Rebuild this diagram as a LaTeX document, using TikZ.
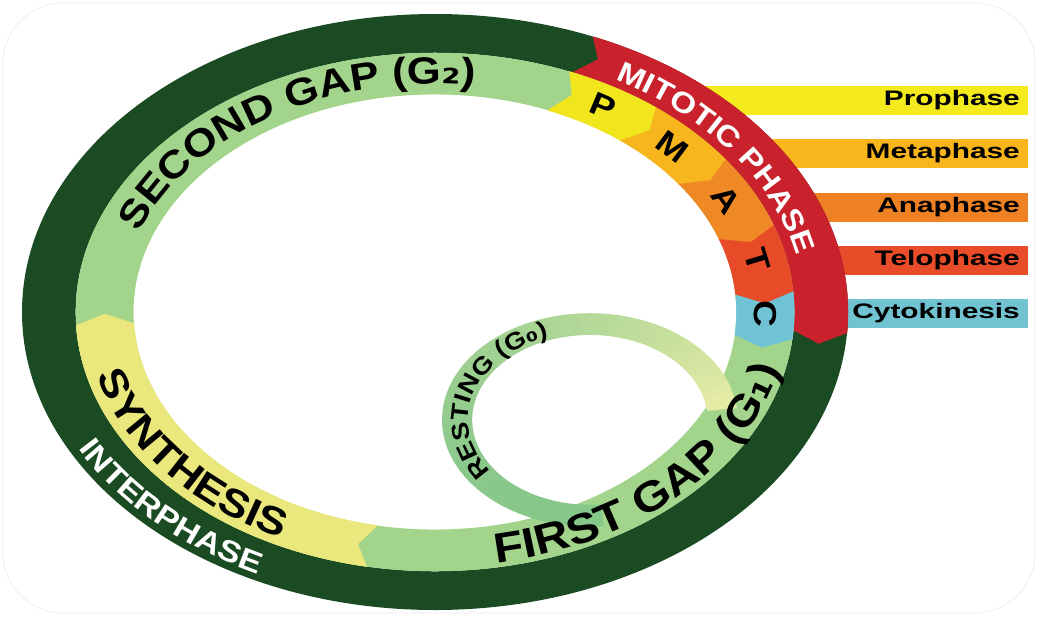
\documentclass[tikz,border=0pt]{standalone}
\usepackage{fontspec}
\setmainfont{Liberation Sans}
\newfontfamily\ringfont{Liberation Sans}[FakeStretch=1.15]
\newfontfamily\subfont{DejaVu Sans}[FakeStretch=1.15]
\newfontfamily\barfont{Liberation Sans}[FakeStretch=1.42]
\usetikzlibrary{decorations.text}

\definecolor{interdark}{HTML}{1B4B23}
\definecolor{gapgreen}{HTML}{A3D48B}
\definecolor{synyellow}{HTML}{EAE77C}
\definecolor{mitred}{HTML}{C9222C}
\definecolor{proyellow}{HTML}{F1E51E}
\definecolor{metaorange}{HTML}{F7B61D}
\definecolor{anaorange}{HTML}{EF8926}
\definecolor{telored}{HTML}{E84B28}
\definecolor{cytoblue}{HTML}{70C3D4}
\definecolor{probar}{HTML}{F4EA1D}
\definecolor{metabar}{HTML}{F8B51C}
\definecolor{anabar}{HTML}{EF8125}
\definecolor{telobar}{HTML}{E84C29}
\definecolor{cytobar}{HTML}{72C3D2}
\definecolor{restgreen}{HTML}{86C78A}
\definecolor{restpale}{HTML}{E6ECA6}

\newcommand{\chev}{2.5}
% band piece from angle #4 clockwise to #5, radii #2..#3
\newcommand{\bandpiece}[5]{%
  \filldraw[#1, line width=0.4pt] (#4:#3) arc[start angle=#4, end angle=#5, radius=#3]
    -- ({#5-\chev}:{(#2+#3)/2}) -- (#5:#2)
    arc[start angle=#5, end angle=#4, radius=#2]
    -- ({#4-\chev}:{(#2+#3)/2}) -- cycle;}

\tikzset{
  phasebar/.style={rectangle, anchor=east, minimum height=29pt, inner xsep=8pt,
    inner ysep=0pt, align=right, font=\barfont\bfseries\fontsize{21}{22}\selectfont},
  phaseletter/.style={inner sep=0pt, font=\ringfont\bfseries\fontsize{32}{32}\selectfont},
  frame/.style={draw=black!5, line width=1.2pt, rounded corners=60pt}
}

\begin{document}
\begin{tikzpicture}[x=1pt, y=1pt]
  \useasboundingbox (0,0) rectangle (1038,-616);
  \draw[frame] (3,-3) rectangle (1035,-613);

  \node[phasebar, fill=probar, text width=385pt] (prophase) at (1028,-100) {Prophase};
  \node[phasebar, fill=metabar, text width=304pt] (metaphase) at (1028,-153) {Metaphase};
  \node[phasebar, fill=anabar, text width=257pt] (anaphase) at (1028,-207) {Anaphase};
  \node[phasebar, fill=telobar, text width=233pt] (telophase) at (1028,-260.5) {Telophase};
  \node[phasebar, fill=cytobar, text width=226pt] (cytokinesis) at (1028,-313) {Cytokinesis};

  \begin{scope}[shift={(435,-312)}, x=413pt, y=298pt]
    \fill[interdark, even odd rule] (0,0) circle[radius=1] (0,0) circle[radius=0.87];
    \bandpiece{mitred}{0.87}{1}{67.5}{-4}
    \fill[gapgreen, even odd rule] (0,0) circle[radius=0.87] (0,0) circle[radius=0.73];
    \bandpiece{synyellow}{0.73}{0.87}{259}{183}
    \bandpiece{proyellow}{0.73}{0.87}{68}{52}
    \bandpiece{metaorange}{0.73}{0.87}{52}{36}
    \bandpiece{anaorange}{0.73}{0.87}{36}{19.5}
    \bandpiece{telored}{0.73}{0.87}{19.5}{4.5}
    \bandpiece{cytoblue}{0.73}{0.87}{4.5}{-6}

    \begin{scope}[shift={(0.375,-0.362)}]
      \foreach \i in {0,...,63} {
        \pgfmathsetmacro\a{-85-4.2*\i}
        \pgfmathsetmacro\b{\a-4.2}
        \pgfmathsetmacro\p{100*(\i/63)^2}
        \fill[restpale!\p!restgreen] ({\a+0.4}:0.358) arc[start angle={\a+0.4}, end angle=\b, radius=0.358]
          -- (\b:0.285) arc[start angle=\b, end angle={\a+0.4}, radius=0.285] -- cycle;
      }
      \path[decorate, decoration={text along path, text align=center,
        text={|\ringfont\bfseries\fontsize{24}{24}\selectfont|RESTING (G|\subfont\bfseries\fontsize{24}{24}\selectfont|₀|\ringfont\bfseries\fontsize{24}{24}\selectfont|)}}]
        (218:0.295) arc[start angle=218, end angle=108, radius=0.295];
    \end{scope}

    \path[decorate, decoration={text along path, text align=center,
      text={|\ringfont\bfseries\fontsize{38}{38}\selectfont|SECOND GAP (G|\subfont\bfseries\fontsize{38}{38}\selectfont|₂|\ringfont\bfseries\fontsize{38}{38}\selectfont|)}}]
      (170:0.765) arc[start angle=170, end angle=75, radius=0.765];
    \path[decorate, decoration={text along path, text align=center,
      text={|\ringfont\bfseries\fontsize{39}{39}\selectfont|SYNTHESIS}}]
      (188:0.846) arc[start angle=188, end angle=249, radius=0.846];
    \path[decorate, decoration={text along path, text align=center, text color=white,
      text={|\ringfont\bfseries\fontsize{30}{30}\selectfont|INTERPHASE}}]
      (198:0.978) arc[start angle=198, end angle=252, radius=0.978];
    \path[decorate, decoration={text along path, text align=center,
      text={|\ringfont\bfseries\fontsize{42}{42}\selectfont|FIRST GAP (G|\subfont\bfseries\fontsize{42}{42}\selectfont|₁|\ringfont\bfseries\fontsize{42}{42}\selectfont|)}}]
      (275:0.855) arc[start angle=275, end angle=354, radius=0.855];
    \path[decorate, decoration={text along path, text align=center, text color=white,
      text={|\ringfont\bfseries\fontsize{29}{29}\selectfont|MITOTIC PHASE}}]
      (64:0.895) arc[start angle=64, end angle=8, radius=0.895];

    \foreach \l/\t in {P/59.5, M/44, A/28, T/12.5, C/-0.5} {
      \pgfmathsetmacro\rot{atan2(-298*cos(\t), 413*sin(\t))}
      \node[phaseletter, rotate=\rot] (letter\l) at (\t:0.80) {\l};
    }
  \end{scope}
\end{tikzpicture}
\end{document}
